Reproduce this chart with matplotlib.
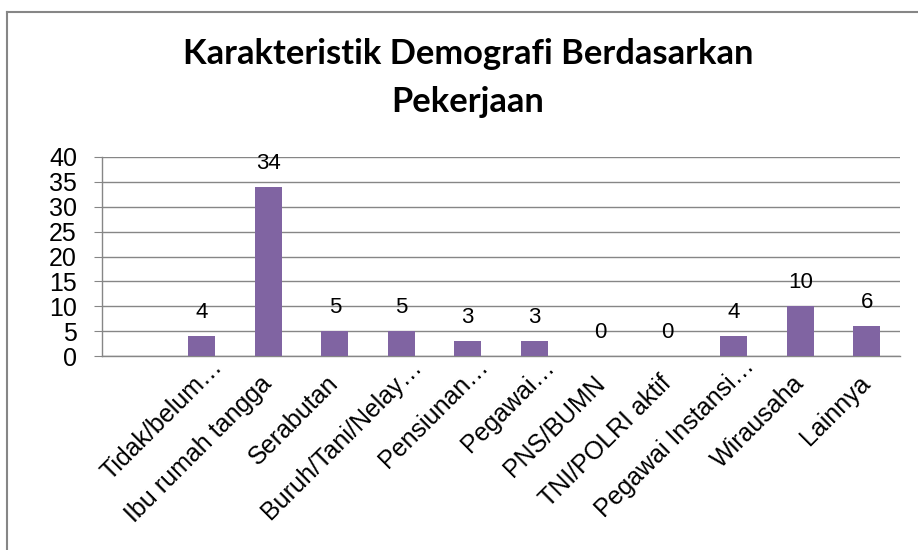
import numpy as np
import matplotlib.pyplot as plt
from matplotlib.lines import Line2D

# data
kategori = ["Tidak/belum…", "Ibu rumah tangga", "Serabutan", "Buruh/Tani/Nelay…",
            "Pensiunan…", "Pegawai…", "PNS/BUMN", "TNI/POLRI aktif",
            "Pegawai Instansi…", "Wirausaha", "Lainnya"]
jumlah = [4, 34, 5, 5, 3, 3, 0, 0, 4, 10, 6]
judul = "Karakteristik Demografi Berdasarkan\nPekerjaan"

plt.rcParams['font.family'] = ['Liberation Sans', 'DejaVu Sans']
abu = "#868686"

fig = plt.figure(figsize=(9.18, 5.5), dpi=100)
ax = fig.add_axes([102/918, 1-356/550, (900-102)/918, (356-157)/550])

x = np.arange(len(kategori))
ax.bar(x, jumlah, width=0.4, color="#8064A2", zorder=3)
for xi, v in zip(x, jumlah):
    ax.annotate(str(v), (xi, v), xytext=(0, 13), textcoords="offset points",
                ha="center", va="baseline", fontsize=16)

ax.set_xlim(-1.5, len(kategori) - 0.5)
ax.set_ylim(0, 40)
ax.set_yticks(range(0, 41, 5))
ax.yaxis.grid(True, color=abu, linewidth=1.0, zorder=0)
ax.set_xticks(x)
ax.set_xticklabels([])
ax.tick_params(axis="x", length=0)
ax.tick_params(axis="y", length=6, color=abu, labelsize=18, pad=12)

# label kategori miring; yang terpotong (…) di Excel agak bergeser
for xi, lbl in zip(x, kategori):
    d = 12 if lbl.endswith("…") else 0
    ax.annotate(lbl, (xi, 0), xycoords=("data", "axes fraction"),
                xytext=(d, -17 + d), textcoords="offset points",
                rotation=45, ha="right", va="center", rotation_mode="anchor",
                fontsize=18, annotation_clip=False)

for s in ["top", "right"]:
    ax.spines[s].set_visible(False)
for s in ["left", "bottom"]:
    ax.spines[s].set_color(abu)
    ax.spines[s].set_linewidth(1.0)

fig.text(468/918, 1-78/550, judul, ha="center", va="center", fontsize=24.8,
         fontweight="bold", family=["Lato", "DejaVu Sans"], linespacing=1.6)

# bingkai chart
fig.add_artist(Line2D([7/918, 7/918], [0, 1-12/550], color=abu, lw=1.5))
fig.add_artist(Line2D([7/918, 1], [1-12/550, 1-12/550], color=abu, lw=1.5))

fig.savefig("out.png", dpi=100)
